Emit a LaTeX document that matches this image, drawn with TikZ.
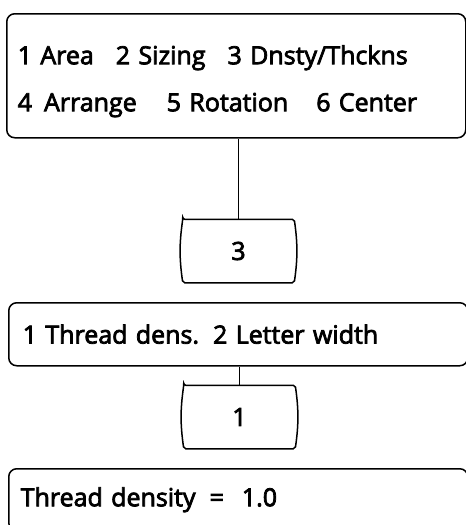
\documentclass[tikz,border=0pt]{standalone}
\usepackage{fontspec}
\setmainfont{Open Sans}[FakeBold=3]
\usetikzlibrary{positioning}

\begin{document}
\begin{tikzpicture}[x=1pt, y=-1pt, line width=1.5pt,
  menubox/.style={draw, rounded corners=8pt, anchor=north west, align=left,
    font=\fontsize{25}{47}\selectfont},
  button/.style={minimum width=110pt, minimum height=62pt,
    font=\fontsize{25}{26}\selectfont},
  buttonframe/.style={rounded corners=2pt}]

% Page
\useasboundingbox (0,0) rectangle (466,525);
\clip (0,0) rectangle (466,525);

% Main menu
\node[menubox, text width=437pt, inner xsep=11pt, minimum height=124pt] (mainmenu) at (6,13)
  {\rule{0pt}{30pt}1 Area\hspace{22pt}2 Sizing\hspace{22pt}3 Dnsty/Thckns\\
   4\hspace{12pt}Arrange\hspace{30pt}5 Rotation\hspace{28pt}6 Center};

% Key 3
\node[button] (keythree) at (238.5,251) {3};
\draw[buttonframe] (keythree.north west) -- (keythree.north east) to[bend left=8] (keythree.south east)
  -- (keythree.south west) to[bend left=8] cycle;
\draw (keythree.north) -- (keythree.north |- mainmenu.south);

% Sub menu
\node[menubox, text width=431pt, inner xsep=14pt, minimum height=63pt] (threadmenu) at (8,302)
  {1 Thread dens.\hspace{14pt}2 Letter width};

% Key 1
\node[button] (keyone) at (239.5,417) {1};
\draw[buttonframe] (keyone.north west) -- (keyone.north east) to[bend left=8] (keyone.south east)
  -- (keyone.south west) to[bend left=8] cycle;
\draw (keyone.north) -- (keyone.north |- threadmenu.south);

% Value
\node[menubox, text width=435pt, inner xsep=12pt, minimum height=62pt] (densityval) at (8,468)
  {Thread density\hspace{14pt}=\hspace{18pt}1.0};

\end{tikzpicture}
\end{document}
